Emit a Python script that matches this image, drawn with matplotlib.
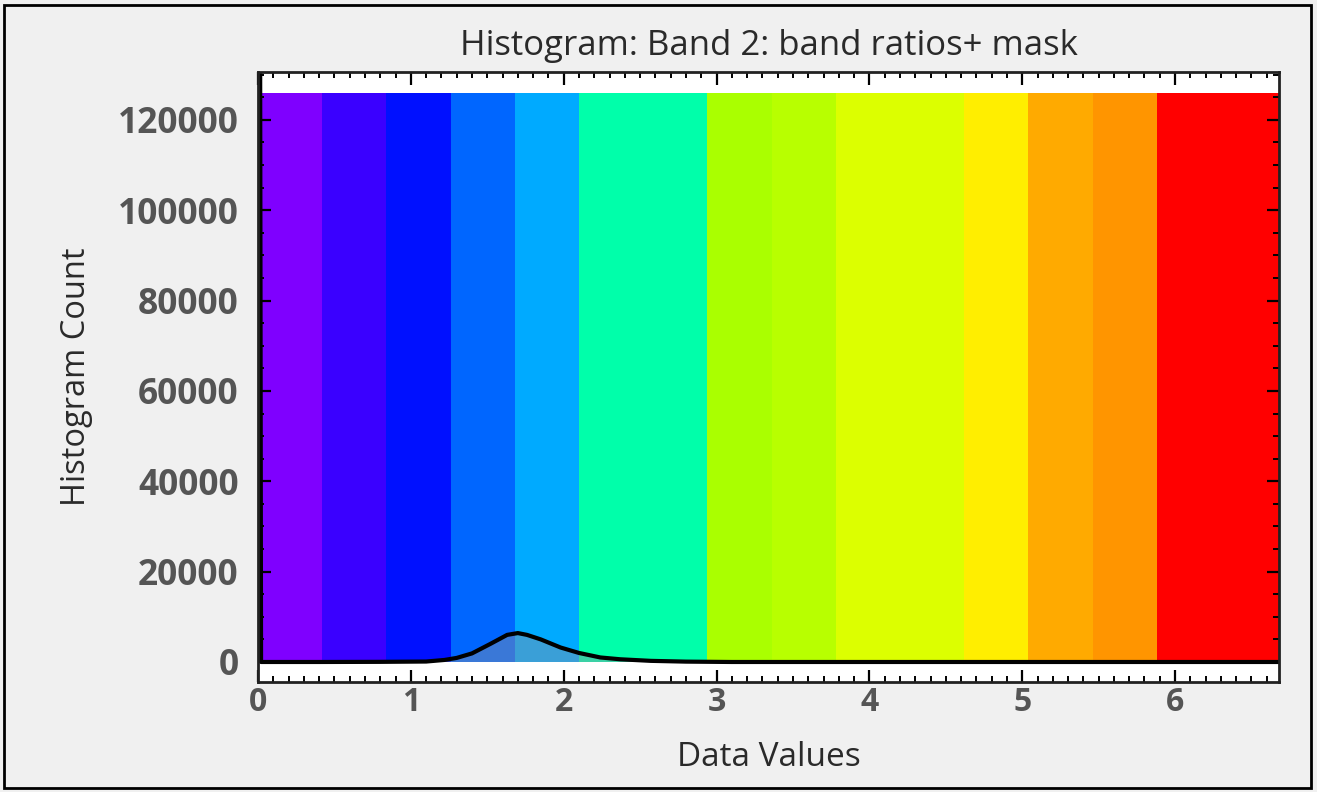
import matplotlib
matplotlib.use("Agg")
import matplotlib.pyplot as plt
from matplotlib.patches import Rectangle
from matplotlib.ticker import MultipleLocator

# Colour-table slots laid out along the data axis
band_edges = [0.0, 0.42, 0.84, 1.26, 1.68, 2.10, 2.94, 3.36, 3.78, 4.62,
              5.04, 5.46, 5.88, 6.72]
band_colors = ["#7f00ff", "#3a00ff", "#0010ff", "#0066ff", "#00aaff",
               "#00ffaa", "#aaff00", "#b8ff00", "#dcff00", "#ffee00",
               "#ffaa00", "#ff9500", "#ff0000"]
band_top = 126000

# Histogram of band values (masked pixels pile up at 0)
hist_x = [0.0, 0.02, 0.40, 0.80, 1.10, 1.22, 1.30, 1.40, 1.52, 1.63, 1.70,
          1.76, 1.85, 1.98, 2.10, 2.24, 2.37, 2.57, 2.80, 3.10, 6.72]
hist_counts = [450000, 0, 0, 30, 100, 450, 900, 1900, 4000, 6000, 6400,
               6000, 5000, 3200, 2000, 1000, 600, 250, 80, 0, 0]

fig = plt.figure(figsize=(13.17, 7.92), dpi=100, facecolor="#f0f0f0")
ax = fig.add_axes([258 / 1317, 1 - 682 / 792, (1279 - 258) / 1317, (682 - 72) / 792])
ax.set_facecolor("white")

for i, c in enumerate(band_colors):
    x0, x1 = band_edges[i], band_edges[i + 1]
    ax.bar(x0, band_top, width=x1 - x0, align="edge", color=c,
           edgecolor="none", zorder=1)

ax.fill_between(hist_x, hist_counts, 0, color="#8c92a0", alpha=0.42,
                linewidth=0, zorder=2)
ax.plot(hist_x, hist_counts, color="black", linewidth=3.0, zorder=3,
        solid_joinstyle="round", solid_capstyle="round")

ax.set_xlim(0, 6.68)
ax.set_ylim(-4430, 130600)

ax.xaxis.set_major_locator(MultipleLocator(1))
ax.xaxis.set_minor_locator(MultipleLocator(0.1))
ax.yaxis.set_major_locator(MultipleLocator(20000))
ax.yaxis.set_minor_locator(MultipleLocator(5000))
ax.tick_params(which="both", direction="in", top=True, right=True,
               color="black", zorder=5)
ax.tick_params(which="major", length=9, width=1.6)
ax.tick_params(which="minor", length=4.5, width=1.4)
ax.tick_params(axis="y", which="major", pad=14)
ax.tick_params(axis="x", which="major", pad=3)

for lab in ax.get_yticklabels():
    lab.set_fontfamily("Open Sans")
    lab.set_fontweight("bold")
    lab.set_fontsize(25.5)
    lab.set_color("#555555")
for lab in ax.get_xticklabels():
    lab.set_fontfamily("Open Sans")
    lab.set_fontweight("bold")
    lab.set_fontsize(23)
    lab.set_color("#555555")

for s in ax.spines.values():
    s.set_linewidth(2.0)
    s.set_color("#222222")
    s.set_zorder(6)

ax.set_title("Histogram: Band 2: band ratios+ mask", fontsize=25,
             family="Open Sans", color="#2a2a2a", pad=12)
ax.set_xlabel("Data Values", fontsize=24, family="Open Sans",
              color="#2a2a2a", labelpad=16)
ax.set_ylabel("Histogram Count", fontsize=23.5, family="Open Sans",
              color="#2a2a2a", labelpad=18)

fig.patches.append(Rectangle((4 / 1317, 4 / 792), 1 - 10 / 1317, 1 - 9 / 792,
                             transform=fig.transFigure, fill=False,
                             edgecolor="black", linewidth=2.0))

fig.savefig("out.png", dpi=100, facecolor=fig.get_facecolor())
